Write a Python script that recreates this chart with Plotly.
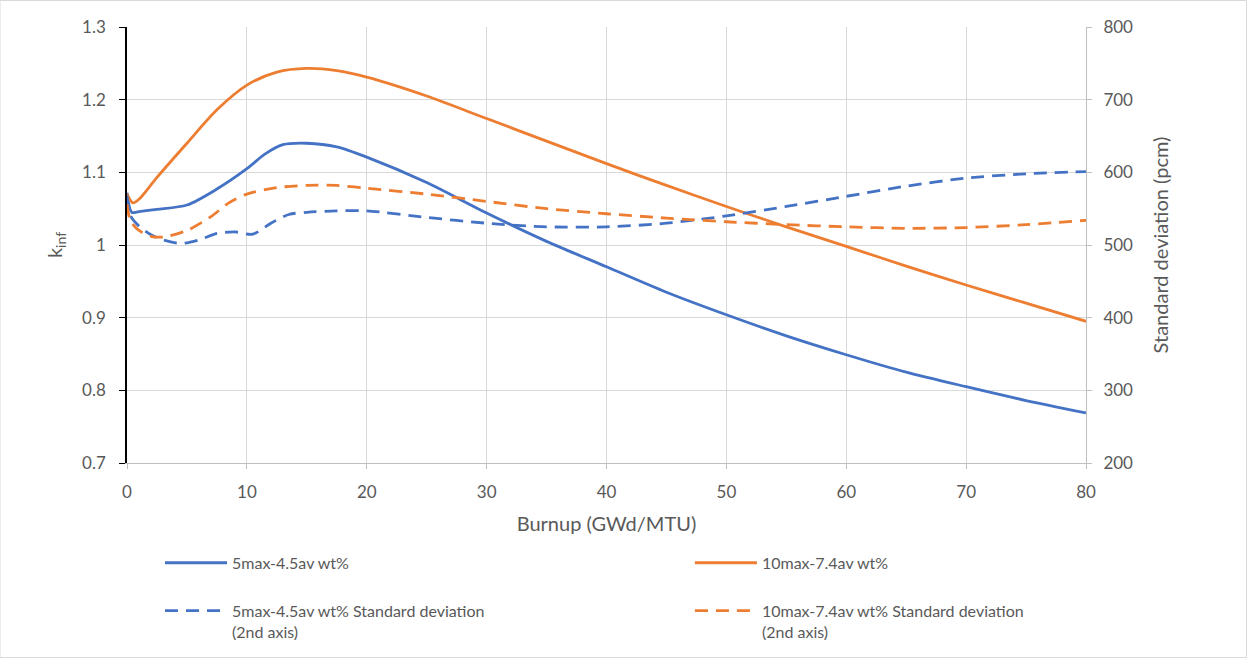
import plotly.graph_objects as go

# Burnup grid (GWd/MTU) and k_inf values for the two enrichment designs
burnup_k = [0, 0.4, 1, 2.5, 5, 7.5, 10, 11.5, 13, 15, 17.5, 20, 25, 30, 35,
            40, 45, 50, 55, 60, 65, 70, 75, 80]
kinf_5max = [1.072, 1.045, 1.046, 1.049, 1.055, 1.077, 1.105, 1.125, 1.138,
             1.140, 1.135, 1.121, 1.086, 1.044, 1.005, 0.970, 0.935, 0.904,
             0.875, 0.849, 0.825, 0.805, 0.786, 0.769]
burnup_k10 = [0, 0.5, 1, 2.5, 5, 7.5, 10, 12.5, 15, 17.5, 20, 25, 30, 35, 40,
              45, 50, 55, 60, 65, 70, 75, 80]
kinf_10max = [1.070, 1.058, 1.063, 1.093, 1.140, 1.186, 1.220, 1.238, 1.243,
              1.240, 1.231, 1.205, 1.174, 1.143, 1.112, 1.082, 1.053, 1.025,
              0.998, 0.971, 0.945, 0.920, 0.895]

# Standard deviation (pcm), plotted on the secondary axis
burnup_sd5 = [0, 0.3, 1, 2, 3, 4.5, 6, 7.5, 9, 10.5, 12, 13.5, 15, 17.5, 20,
              25, 30, 35, 40, 45, 50, 55, 60, 65, 70, 75, 80]
sd_5max = [568, 540, 526, 514, 507, 502, 507, 516, 518, 515, 530, 542, 545,
           547, 547, 538, 530, 525, 525, 530, 540, 553, 567, 581, 592, 598, 601]
burnup_sd10 = [0, 0.3, 1, 2, 3, 5, 7, 8.5, 10, 12.5, 15, 17.5, 20, 25, 30,
               35, 40, 45, 50, 55, 60, 65, 70, 75, 80]
sd_10max = [556, 533, 520, 512, 511, 520, 539, 558, 570, 579, 582, 582, 578,
            570, 560, 550, 543, 537, 532, 528, 525, 523, 524, 528, 534]

BLUE = "#4472C4"
ORANGE = "#ED7D31"
TEXT = "#595959"
FONT = "Lato"
DASH = "13px,8px"

fig = go.Figure()
fig.add_trace(go.Scatter(x=burnup_k, y=kinf_5max, mode="lines",
                         name="5max-4.5av wt%", legend="legend",
                         legendgroup="a",
                         line=dict(color=BLUE, width=2.8, shape="spline",
                                   smoothing=0.8)))
fig.add_trace(go.Scatter(x=burnup_sd5, y=sd_5max, mode="lines", yaxis="y2",
                         name="5max-4.5av wt% Standard deviation<br>(2nd axis)",
                         legend="legend", legendgroup="b",
                         line=dict(color=BLUE, width=2.8, dash=DASH,
                                   shape="spline", smoothing=0.8)))
fig.add_trace(go.Scatter(x=burnup_k10, y=kinf_10max, mode="lines",
                         name="10max-7.4av wt%", legend="legend2",
                         legendgroup="c",
                         line=dict(color=ORANGE, width=2.8, shape="spline",
                                   smoothing=0.8)))
fig.add_trace(go.Scatter(x=burnup_sd10, y=sd_10max, mode="lines", yaxis="y2",
                         name="10max-7.4av wt% Standard deviation<br>(2nd axis)",
                         legend="legend2", legendgroup="d",
                         line=dict(color=ORANGE, width=2.8, dash=DASH,
                                   shape="spline", smoothing=0.8)))

legend_common = dict(orientation="v", yanchor="top", y=-0.19,
                     xanchor="left", valign="top",
                     font=dict(family=FONT, size=16, color=TEXT),
                     tracegroupgap=24, itemwidth=62,
                     bgcolor="rgba(0,0,0,0)")

fig.update_layout(
    width=1247, height=658,
    margin=dict(l=127, r=161, t=27, b=195, autoexpand=False),
    paper_bgcolor="white", plot_bgcolor="white",
    font=dict(family=FONT, size=17, color=TEXT),
    showlegend=True,
    legend=dict(x=0.0344, **legend_common),
    legend2=dict(x=0.587, **legend_common),
    xaxis=dict(range=[0, 80], dtick=10, showgrid=True, gridcolor="#d9d9d9",
               gridwidth=1, zeroline=False, showline=True,
               linecolor="#bfbfbf", linewidth=1, ticks="outside", ticklen=5,
               tickcolor="#bfbfbf", ticklabelstandoff=9, automargin=False,
               title=dict(text="Burnup (GWd/MTU)", standoff=15)),
    yaxis=dict(range=[0.7, 1.3], dtick=0.1, showgrid=True,
               gridcolor="#d9d9d9", gridwidth=1, zeroline=False,
               showline=True, linecolor="black", linewidth=1.5,
               ticks="outside", ticklen=6, tickcolor="black",
               ticklabelstandoff=10, automargin=False,
               title=dict(text="k<sub>inf</sub>", standoff=14)),
    yaxis2=dict(range=[200, 800], dtick=100, overlaying="y", side="right",
                showgrid=False, zeroline=False, showline=True,
                linecolor="#bfbfbf", linewidth=1, ticks="outside", ticklen=5,
                tickcolor="#bfbfbf", ticklabelstandoff=8, automargin=False,
                title=dict(text="Standard deviation (pcm)", standoff=21)),
    shapes=[dict(type="rect", xref="paper", yref="paper",
                 x0=-127 / 959, x1=1119.5 / 959, y0=-194.5 / 436,
                 y1=1 + 26.5 / 436, line=dict(color="#d9d9d9", width=1),
                 layer="below")],
)

fig.write_html("out.html")
